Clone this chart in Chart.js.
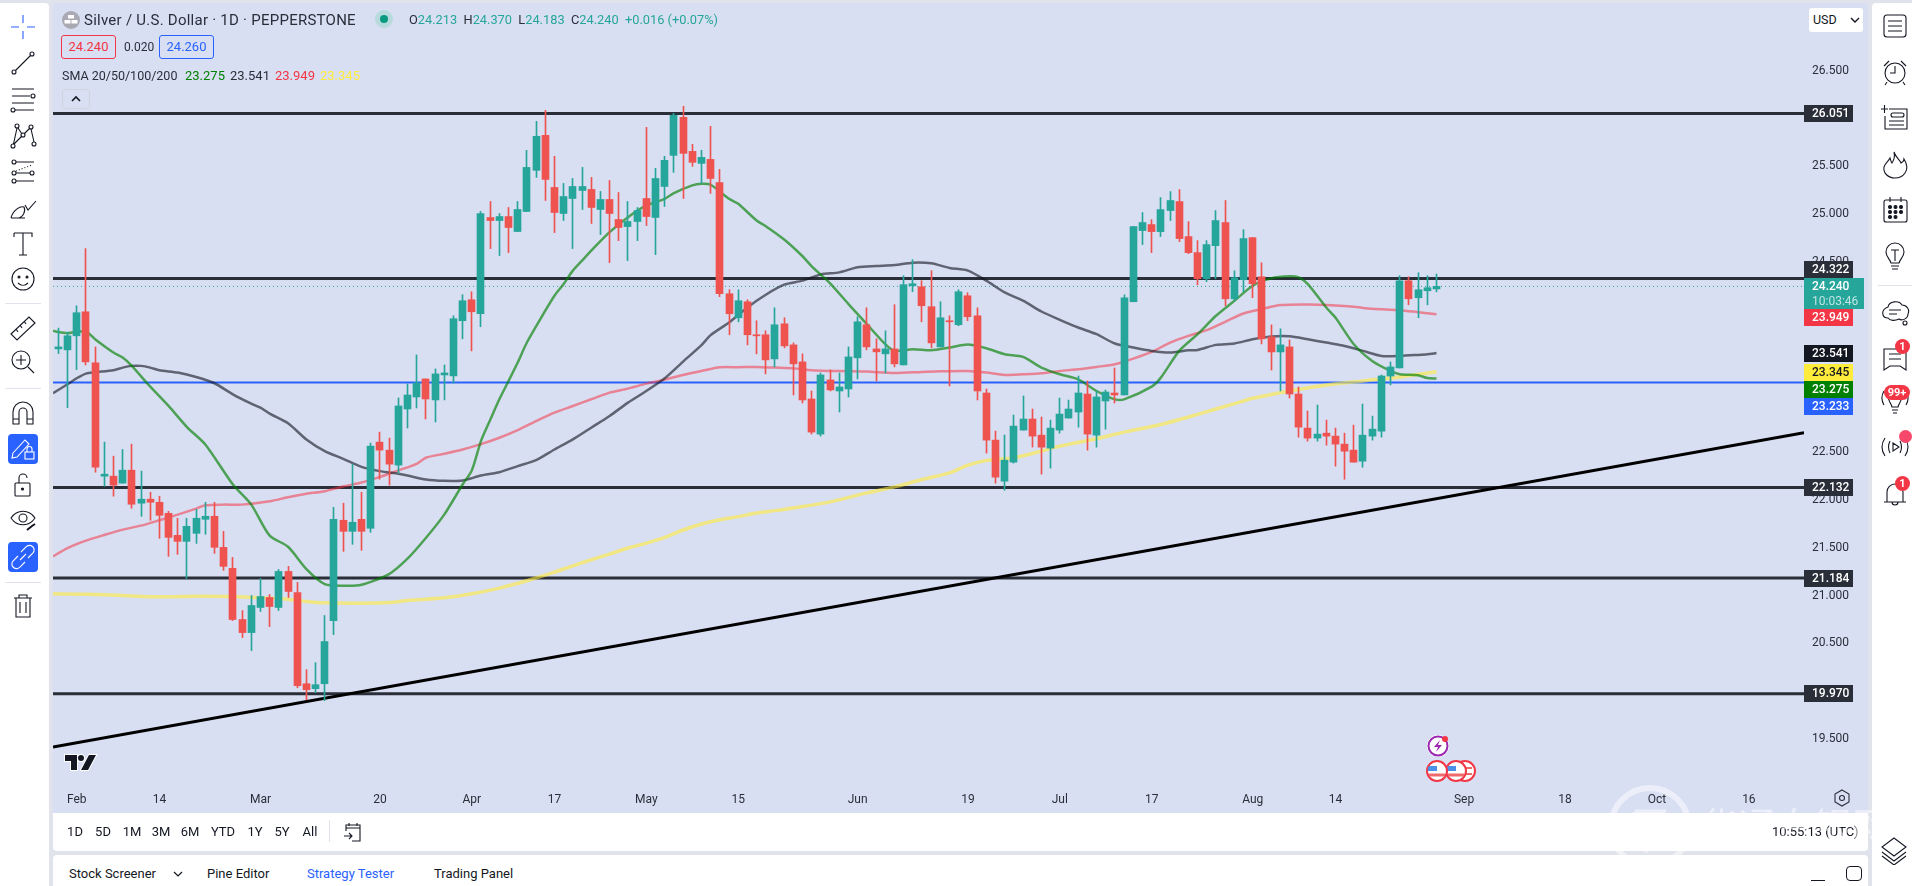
<!DOCTYPE html>
<html>
<head>
<meta charset="utf-8">
<style>
    html, body { margin: 0; padding: 0; width: 1912px; height: 886px; overflow: hidden; background: #e0e3eb; font-family: Roboto, sans-serif; color: #131722; }
    .panel { position: absolute; background: #fff; }
    .t { position: absolute; white-space: nowrap; font-size: 13px; line-height: 20px; height: 20px; }
    .c { transform: translateX(-50%); }
    .ic { position: absolute; fill: none; stroke: #131722; stroke-width: 1.1; }
    .badge { position: absolute; background: #f23645; color: #fff; border-radius: 10px; font-size: 11px; font-weight: 700; text-align: center; line-height: 15px; height: 15px; }
    .box { position: absolute; border-radius: 3px; border: 1px solid; box-sizing: border-box; background: #d9dff3; text-align: center; font-size: 13px; line-height: 21px; }
    #wm { position: absolute; left: 1700px; top: 796px; font: 400 38px "Noto Sans CJK SC"; color: rgba(255,255,255,.5); letter-spacing: 0; white-space: nowrap; }
</style>
</head>
<body>
<div class="panel" style="left:0;top:3px;width:49px;height:883px;border-top-right-radius:4px;"></div>
<div class="panel" style="left:1872px;top:3px;width:40px;height:883px;border-top-left-radius:4px;"></div>
<div class="panel" style="left:53px;top:813px;width:1815px;height:38px;border-radius:0 0 4px 4px;"></div>
<div class="panel" style="left:53px;top:855px;width:1815px;height:31px;border-radius:4px 4px 0 0;"></div>

<div style="position:absolute;left:53px;top:3px;width:1815px;height:810px;background:#d9dff3;">
    <canvas id="silver_chart" width="1815" height="810" style="display:block;"></canvas>
</div>

<!-- legend -->
<svg class="ic" style="left:61px;top:10px;stroke:none;" width="20" height="20"><circle cx="10" cy="10" r="9" fill="#a9a9b3"/><rect x="7" y="5" width="6" height="3.5" fill="#fff"/><rect x="3.5" y="10" width="6" height="3.5" fill="#fff"/><rect x="10.5" y="10" width="6" height="3.5" fill="#fff"/></svg>
<div class="t" style="left:84px;top:10px;font-size:15px;letter-spacing:.25px;color:#2a2e39;">Silver / U.S. Dollar · 1D · PEPPERSTONE</div>
<svg class="ic" style="left:374px;top:9px;stroke:none;" width="20" height="20"><circle cx="10" cy="10" r="9" fill="#b7dadd"/><circle cx="10" cy="10" r="4" fill="#089981"/></svg>
<div class="t" style="left:409px;top:10px;color:#2a2e39;font-size:12.8px;">O<span style="color:#26a69a">24.213</span>&nbsp; H<span style="color:#26a69a">24.370</span>&nbsp; L<span style="color:#26a69a">24.183</span>&nbsp; C<span style="color:#26a69a">24.240</span>&nbsp; <span style="color:#26a69a">+0.016 (+0.07%)</span></div>
<div class="box" style="left:61px;top:35px;width:55px;height:24px;border-color:#f23645;color:#f23645;">24.240</div>
<div class="t" style="left:124px;top:37px;font-size:12px;color:#2a2e39;">0.020</div>
<div class="box" style="left:159px;top:35px;width:55px;height:24px;border-color:#2962ff;color:#2962ff;">24.260</div>
<div class="t" style="left:62px;top:66px;color:#2a2e39;font-size:12.5px;">SMA 20/50/100/200</div>
<div class="t" style="left:185px;top:66px;color:#008000;">23.275</div>
<div class="t" style="left:230px;top:66px;color:#2a2e39;">23.541</div>
<div class="t" style="left:275px;top:66px;color:#f23645;">23.949</div>
<div class="t" style="left:320px;top:66px;color:#ffeb3b;">23.345</div>
<div style="position:absolute;left:62px;top:89px;width:28px;height:20px;border:1px solid #d1d4dc;border-radius:3px;box-sizing:border-box;"></div>
<svg class="ic" style="left:70px;top:94px;stroke-width:1.6;" width="12" height="10"><path d="M2 7 L6 3 L10 7"/></svg>

<!-- price axis and time axis extras -->
<div style="position:absolute;left:1809px;top:8px;width:54px;height:24px;background:#fff;border-radius:3px;"></div>
<div class="t" style="left:1813px;top:10px;font-size:12.5px;">USD</div>
<svg class="ic" style="left:1850px;top:16px;stroke-width:1.4;" width="10" height="8"><path d="M1 2 L5 6 L9 2"/></svg>
<svg class="ic" style="left:1833px;top:789px;stroke:#2a2e39;" width="18" height="18"><path d="M9 1 L16 5 V13 L9 17 L2 13 V5 Z"/><circle cx="9" cy="9" r="2.5"/></svg>

<!-- tradingview mark -->
<svg class="ic" style="left:63px;top:753px;stroke:#fff;stroke-width:2;paint-order:stroke;" width="35" height="20"><path fill="#131722" d="M2 2 H14 V17 H8 V8 H2 Z"/><circle cx="18" cy="5" r="3" fill="#131722"/><path fill="#131722" d="M26 2 H33 L25 17 H18 Z"/></svg>

<!-- chart events -->
<svg class="ic" style="left:1426px;top:734px;stroke:none;" width="24" height="24"><circle cx="12" cy="12" r="11" fill="#fff"/><circle cx="12" cy="12" r="9.5" stroke="#9c27b0" stroke-width="2" fill="#fff"/><path d="M14 6 L8 13 H12 L10 18 L16 11 H12 Z" fill="#9c27b0"/><circle cx="19" cy="5" r="3" fill="#f23645"/></svg>
<svg class="ic" style="left:1424px;top:758px;stroke:none;" width="56" height="26"><circle cx="41" cy="13" r="10" fill="#fff" stroke="#f23645" stroke-width="2"/><path d="M34 10 H48 M34 16 H48" stroke="#ef6b6b" stroke-width="2"/><circle cx="32" cy="13" r="10" fill="#fff" stroke="#f23645" stroke-width="2"/><path d="M24 17 H40" stroke="#ef6b6b" stroke-width="3"/><path d="M23.5 8 H32 V13 H22.5 Z" fill="#4c91e8"/><circle cx="13" cy="13" r="10" fill="#fff" stroke="#f23645" stroke-width="2"/><path d="M5 17 H21" stroke="#ef6b6b" stroke-width="3"/><path d="M4.5 8 H13 V13 H3.5 Z" fill="#4c91e8"/></svg>

<!-- left toolbar -->
<svg class="ic" style="left:8px;top:12px;stroke:#2962ff;" width="30" height="30"><path d="M15 3 V11 M15 19 V27 M3 15 H11 M19 15 H27"/></svg>
<svg class="ic" style="left:8px;top:48px;" width="30" height="30"><circle cx="6" cy="24" r="2"/><circle cx="24" cy="6" r="2"/><path d="M7.5 22.5 L22.5 7.5"/></svg>
<svg class="ic" style="left:8px;top:83px;" width="30" height="30"><path d="M4 6 H26 M4 13 H22 M4 20 H26 M7 27 H26"/><circle cx="25" cy="13" r="2"/><circle cx="5" cy="27" r="2"/></svg>
<svg class="ic" style="left:8px;top:120px;" width="30" height="30"><circle cx="9" cy="6" r="2"/><circle cx="23" cy="7" r="2"/><circle cx="15" cy="15" r="2"/><circle cx="5" cy="26" r="2"/><circle cx="26" cy="24" r="2"/><path d="M9 8 L5.5 24 M10 8 L14 14 M22 8 L16 14 M23 9 L26 22 M6 24 L14 16"/></svg>
<svg class="ic" style="left:8px;top:156px;" width="30" height="30"><circle cx="6" cy="6" r="2"/><circle cx="6" cy="17" r="2"/><circle cx="6" cy="25" r="2"/><circle cx="24" cy="17" r="2"/><path d="M8 6 H26 M8 17 H22 M8 25 H26"/><path d="M8 15 L24 9" stroke-dasharray="1 2"/></svg>
<svg class="ic" style="left:8px;top:192px;" width="30" height="30"><path d="M3 26 H17 M3 26 C5 18 12 14 16 15 C18 19 15 25 11 26 M17 13 L20 18 L28 9"/></svg>
<svg class="ic" style="left:8px;top:228px;" width="30" height="30"><path d="M6 5 H24 V9 M6 5 V9 M15 5 V27 M11 27 H19"/></svg>
<svg class="ic" style="left:8px;top:264px;" width="30" height="30"><circle cx="15" cy="15" r="11"/><circle cx="11" cy="13" r="1" fill="#131722"/><circle cx="19" cy="13" r="1" fill="#131722"/><path d="M10 19 C13 22 17 22 20 19"/></svg>
<div style="position:absolute;left:5px;top:303px;width:36px;height:1px;background:#e0e3eb;"></div>
<svg class="ic" style="left:8px;top:313px;" width="30" height="30"><path d="M3 21 L21 4 L27 10 L9 27 Z M8 16 L10 19 M12 12 L14 15 M16 8 L18 11"/></svg>
<svg class="ic" style="left:8px;top:347px;" width="30" height="30"><circle cx="13" cy="13" r="9"/><path d="M13 8 V18 M8 13 H18 M20 20 L26 26"/></svg>
<div style="position:absolute;left:5px;top:388px;width:36px;height:1px;background:#e0e3eb;"></div>
<svg class="ic" style="left:8px;top:398px;" width="30" height="30"><path d="M5 26 V14 A10 10 0 0 1 25 14 V26 H19 V14 A4 4 0 0 0 11 14 V26 Z M5 21 H11 M19 21 H25"/></svg>
<div style="position:absolute;left:8px;top:434px;width:30px;height:30px;background:#2962ff;border-radius:4px;"></div>
<svg class="ic" style="left:8px;top:434px;stroke:#fff;" width="30" height="30"><path d="M5 19 L17 6 L21 10 L9 23 L4 24 Z"/><rect x="17" y="18" width="9" height="7"/><path d="M19 18 V15 A2.5 2.5 0 0 1 24 15 V18"/></svg>
<svg class="ic" style="left:8px;top:470px;" width="30" height="30"><rect x="7" y="13" width="15" height="13" rx="1"/><path d="M11 13 V8 A4 4 0 0 1 19 8"/><circle cx="14.5" cy="19" r="1" fill="#131722"/></svg>
<svg class="ic" style="left:8px;top:505px;" width="30" height="30"><path d="M3 13 C9 4 21 4 27 13 C21 22 9 22 3 13 Z"/><circle cx="15" cy="13" r="4"/><path d="M19 25 L24 21 L27 19" stroke-width="2"/></svg>
<div style="position:absolute;left:8px;top:542px;width:30px;height:30px;background:#2962ff;border-radius:4px;"></div>
<svg class="ic" style="left:8px;top:542px;stroke:#fff;" width="30" height="30"><path d="M13 10 L18 5 A4 4 0 0 1 25 11 L20 16 M17 20 L12 25 A4 4 0 0 1 5 19 L10 14 M12 18 L18 12"/></svg>
<div style="position:absolute;left:5px;top:582px;width:36px;height:1px;background:#e0e3eb;"></div>
<svg class="ic" style="left:8px;top:591px;" width="30" height="30"><path d="M6 7 H24 M11 7 V4 H19 V7 M8 7 V26 H22 V7 M12 11 V22 M18 11 V22"/></svg>

<!-- right toolbar -->
<svg class="ic" style="left:1880px;top:11px;" width="30" height="30"><rect x="4" y="4" width="22" height="22" rx="3"/><path d="M8 10 H22 M8 15 H22 M8 20 H22"/></svg>
<svg class="ic" style="left:1880px;top:57px;" width="30" height="30"><circle cx="15" cy="16" r="10"/><path d="M15 9 V16 H10 M4 9 L9 4 M26 9 L21 4 M7 25 L5 28 M23 25 L25 28"/></svg>
<svg class="ic" style="left:1880px;top:103px;" width="30" height="30"><path d="M9 6 H27 V26 H5 V13 M1 6 H8 M4.5 2 V10"/><rect x="11" y="10" width="13" height="4" rx="2"/><path d="M9 18 H24 M9 22 H24"/></svg>
<svg class="ic" style="left:1880px;top:150px;" width="30" height="30"><path d="M14 2 C16 8 20 10 21 13 C23 12 24 10 24 9 C27 14 28 19 25 23 C23 26 20 28 15 28 C8 28 3 23 4 17 C5 13 8 12 10 8 C11 11 11 12 12 13 C14 10 15 6 14 2 Z"/></svg>
<svg class="ic" style="left:1880px;top:195px;" width="30" height="30"><rect x="4" y="5" width="23" height="22" rx="2"/><path d="M10 2 V7 M21 2 V7"/><g fill="#131722"><circle cx="10" cy="12" r="1.5"/><circle cx="15.5" cy="12" r="1.5"/><circle cx="21" cy="12" r="1.5"/><circle cx="10" cy="17" r="1.5"/><circle cx="15.5" cy="17" r="1.5"/><circle cx="21" cy="17" r="1.5"/><circle cx="10" cy="22" r="1.5"/><circle cx="15.5" cy="22" r="1.5"/></g></svg>
<svg class="ic" style="left:1880px;top:241px;" width="30" height="30"><path d="M11 22 C10 18 6 16 6 11 A9 9 0 0 1 24 11 C24 16 20 18 19 22 Z M11 25 H19 M12 28 H18 M11 9 H19 M15 9 V20"/></svg>
<div style="position:absolute;left:1878px;top:285px;width:34px;height:1px;background:#e0e3eb;"></div>
<svg class="ic" style="left:1880px;top:298px;" width="30" height="30"><path d="M8 9 C9 3 19 2 22 7 C27 7 30 12 28 16 C28 21 22 23 19 21 C15 23 10 23 8 20 C2 20 0 12 8 9 Z M9 12 H21 M9 16 H17"/><circle cx="25" cy="25" r="2"/></svg>
<svg class="ic" style="left:1880px;top:343px;" width="30" height="30"><path d="M4 6 H26 V27 L20 23 H10 L4 27 Z M9 11 H21 M9 16 H21"/></svg>
<div class="badge" style="left:1895px;top:339px;width:15px;">1</div>
<svg class="ic" style="left:1880px;top:385px;" width="30" height="30"><path d="M12 22 C11 18 8 16 8 11 A7 7 0 0 1 22 11 C22 16 19 18 18 22 Z M12 25 H18 M13 28 H17 M4 6 C1 11 1 15 4 20 M26 6 C29 11 29 15 26 20"/></svg>
<div class="badge" style="left:1884px;top:385px;width:26px;height:15px;">99+</div>
<svg class="ic" style="left:1880px;top:432px;" width="30" height="30"><path d="M5 6 C1 12 1 18 5 24 M10 9 C8 13 8 17 10 21 M25 6 C29 12 29 18 25 24 M20 9 C22 13 22 17 20 21 M13 11 L19 15 L13 19 Z"/></svg>
<div class="badge" style="left:1899px;top:430px;width:13px;height:13px;background:#f7476a;"></div>
<svg class="ic" style="left:1880px;top:477px;" width="30" height="30"><path d="M4 25 H26 M7 25 V15 A8 8 0 0 1 23 15 V25 M12 25 A3 3 0 0 0 18 25"/></svg>
<div class="badge" style="left:1895px;top:476px;width:15px;">1</div>
<svg class="ic" style="left:1879px;top:835px;" width="30" height="30"><path d="M15 3 L27 12 L15 21 L3 12 Z M3 17 L15 26 L27 17 M3 21 L15 30 L27 21"/></svg>

<!-- range bar -->
<div class="t c" style="left:75px;top:822px;">1D</div>
<div class="t c" style="left:103px;top:822px;">5D</div>
<div class="t c" style="left:132px;top:822px;">1M</div>
<div class="t c" style="left:161px;top:822px;">3M</div>
<div class="t c" style="left:190px;top:822px;">6M</div>
<div class="t c" style="left:223px;top:822px;">YTD</div>
<div class="t c" style="left:255px;top:822px;">1Y</div>
<div class="t c" style="left:282px;top:822px;">5Y</div>
<div class="t c" style="left:310px;top:822px;">All</div>
<div style="position:absolute;left:329px;top:820px;width:1px;height:22px;background:#e0e3eb;"></div>
<svg class="ic" style="left:343px;top:822px;" width="20" height="20"><path d="M3 9 V3 H17 V19 H9 M3 6 H17 M6 1 V4 M14 1 V4 M1 14 H9 M6 11 L9 14 L6 17"/></svg>
<div class="t" style="left:1772px;top:822px;">10:55:13 (UTC)</div>

<!-- bottom tabs -->
<div class="t" style="left:69px;top:864px;">Stock Screener</div>
<svg class="ic" style="left:173px;top:870px;stroke-width:1.2;" width="10" height="8"><path d="M1 2 L5 6 L9 2"/></svg>
<div class="t" style="left:207px;top:864px;">Pine Editor</div>
<div class="t" style="left:307px;top:864px;color:#2962ff;">Strategy Tester</div>
<div class="t" style="left:434px;top:864px;">Trading Panel</div>
<div style="position:absolute;left:1811px;top:880px;width:14px;height:1px;background:#131722;"></div>
<div style="position:absolute;left:1846px;top:866px;width:16px;height:15px;border:1px solid #131722;border-radius:4px;box-sizing:border-box;"></div>

<!-- watermark -->
<svg style="position:absolute;left:1605px;top:782px;" width="90" height="100" fill="none" stroke="rgba(255,255,255,.5)"><circle cx="45" cy="45" r="39" stroke-width="6"/><path d="M30 30 V60 M30 30 H58 L40 70" stroke-width="5"/></svg>
<div id="wm">华通白银网</div>

<script src="https://cdn.jsdelivr.net/npm/chart.js"></script>
<script>
    var opens = [
        23.585,23.575,23.722,23.974,23.438,22.251,22.251,22.178,22.314,21.968,
        22.010,21.978,21.862,21.631,21.568,21.652,21.799,21.831,21.505,21.285,
        20.749,20.612,20.875,20.980,20.875,21.253,21.032,20.076,20.024,20.076,
        20.738,21.789,21.673,21.799,21.705,22.608,22.524,22.367,22.955,23.081,
        23.270,23.050,23.312,23.302,23.880,24.100,23.953,24.962,24.930,24.972,
        24.815,25.025,25.456,25.823,25.277,25.004,25.161,25.245,25.256,25.046,
        25.151,24.941,24.867,24.920,25.161,24.962,25.287,25.613,26.012,25.655,
        25.529,25.571,25.329,24.163,23.911,24.079,23.733,23.733,23.480,23.848,
        23.627,23.449,23.060,22.692,23.260,23.144,23.165,23.491,23.838,23.585,
        23.533,23.585,23.417,24.247,24.237,24.027,23.606,23.880,23.838,24.142,
        23.932,23.123,22.629,22.199,22.398,22.734,22.850,22.681,22.545,22.734,
        22.860,22.923,23.112,22.681,23.039,23.123,23.102,24.079,24.825,24.888,
        24.814,25.035,25.129,24.762,24.594,24.320,24.667,24.909,24.110,24.310,
        24.751,24.341,23.711,23.553,23.606,23.112,22.755,22.650,22.702,22.671,
        22.587,22.524,22.408,22.671,22.723,23.301,23.385,24.299,24.121,24.194,
        24.213
    ];
    var closes = [
        23.606,23.722,23.964,23.449,22.346,22.272,22.157,22.314,21.957,22.010,
        21.978,21.841,21.610,21.568,21.726,21.810,21.831,21.505,21.306,20.749,
        20.612,20.896,20.990,20.885,21.253,21.043,20.055,20.013,20.066,20.518,
        21.799,21.673,21.768,21.673,22.566,22.524,22.377,22.987,23.102,23.228,
        23.060,23.323,23.333,23.901,24.090,23.974,25.004,24.930,24.972,24.857,
        25.046,25.487,25.813,25.361,25.014,25.182,25.287,25.287,25.067,25.151,
        25.004,24.857,24.920,25.035,24.972,25.371,25.561,26.033,25.634,25.540,
        25.592,25.371,24.163,23.953,24.090,23.733,23.722,23.470,23.838,23.617,
        23.428,23.050,22.713,23.312,23.155,23.186,23.501,23.869,23.606,23.554,
        23.585,23.428,24.258,24.268,24.037,23.648,23.911,23.869,24.184,23.922,
        23.144,22.629,22.241,22.419,22.776,22.850,22.671,22.555,22.755,22.902,
        22.955,23.123,22.692,23.081,23.133,23.102,24.121,24.867,24.909,24.814,
        25.045,25.140,24.741,24.594,24.320,24.678,24.930,24.110,24.331,24.741,
        24.268,23.690,23.553,23.627,23.112,22.765,22.650,22.692,22.671,22.587,
        22.513,22.398,22.681,22.744,23.301,23.396,24.299,24.110,24.205,24.226,
        24.240
    ];
    var highs = [
        23.803,23.761,24.037,24.636,23.606,22.608,22.461,22.531,22.587,22.304,
        22.083,22.041,21.883,21.810,21.810,21.904,21.978,21.978,21.673,21.400,
        20.843,21.001,21.180,21.011,21.274,21.306,21.138,20.224,20.297,20.791,
        21.925,21.968,22.377,22.083,22.598,22.713,22.650,23.071,23.218,23.522,
        23.270,23.375,23.417,23.932,24.153,24.184,25.025,25.130,25.004,25.067,
        25.130,25.666,25.970,26.086,25.603,25.319,25.371,25.487,25.382,25.235,
        25.350,25.224,25.130,25.067,25.907,25.477,25.603,26.054,26.128,25.729,
        25.666,25.918,25.466,24.205,24.205,24.100,23.880,23.775,24.016,23.911,
        23.648,23.533,23.144,23.333,23.365,23.333,23.606,23.922,24.016,23.691,
        23.775,24.048,24.352,24.520,24.300,24.405,24.079,23.932,24.205,24.174,
        24.016,23.165,22.724,22.682,22.892,23.092,22.955,22.871,22.839,23.070,
        23.049,23.301,23.249,23.144,23.154,23.385,24.152,24.867,25.014,24.940,
        25.171,25.234,25.255,24.919,24.720,24.720,25.035,25.140,24.404,24.835,
        24.751,24.488,23.837,23.795,23.679,23.186,22.934,22.997,22.839,22.755,
        22.702,22.786,23.007,22.881,23.312,23.448,24.352,24.341,24.383,24.352,
        24.370
    ];
    var lows = [
        23.536,22.969,23.368,23.417,22.293,22.146,22.041,22.178,21.915,21.831,
        21.789,21.600,21.411,21.432,21.180,21.547,21.642,21.442,21.264,20.738,
        20.560,20.423,20.833,20.675,20.843,20.980,20.034,19.908,19.982,19.898,
        20.591,21.463,21.537,21.474,21.663,22.220,22.157,22.283,22.756,22.966,
        22.850,22.819,23.050,23.228,23.691,23.564,23.817,24.636,24.563,24.594,
        24.815,25.025,25.382,25.140,24.804,24.930,24.636,25.046,24.899,24.783,
        24.489,24.720,24.510,24.720,24.878,24.573,25.077,25.435,25.161,25.498,
        25.319,25.214,24.132,23.733,23.869,23.627,23.533,23.323,23.396,23.596,
        23.102,23.018,22.692,22.671,23.144,22.924,23.081,23.270,23.575,23.249,
        23.333,23.396,23.417,24.184,23.869,23.596,23.606,23.197,23.827,23.880,
        23.050,22.493,22.178,22.104,22.388,22.734,22.556,22.272,22.335,22.702,
        22.860,22.765,22.524,22.555,22.744,23.018,23.102,24.079,24.678,24.594,
        24.762,24.930,24.709,24.583,24.257,24.289,24.320,24.037,24.089,24.184,
        24.121,23.637,23.364,23.144,23.070,22.660,22.618,22.618,22.576,22.356,
        22.219,22.398,22.345,22.629,22.660,23.207,23.385,24.047,23.911,24.047,
        24.183
    ];

    // moving averages at these candles
    var sma20_x = [-0.58,0,1,3,4,6,7,8,9.6,12,14,16,19,21,23,25,27,29,31,33,36,38,40,42,44,45,46,47,48,49,50,51,53,54,55,56,57,58,60,62,64,66,67,69,70,71,73,74,76,77,79,81,82,84,86,88,90,91,93,95,97,99,101,103,105,107,109,111,113,115,116,119,120,122,124,126,128,130,132,134,135,136,138,139,141,143,145,146,148,149,150];
    var sma20_y = [23.775,23.761,23.750,23.768,23.687,23.547,23.494,23.407,23.232,22.987,22.766,22.584,22.164,21.953,21.628,21.512,21.278,21.120,21.103,21.113,21.225,21.386,21.603,21.848,22.164,22.311,22.619,22.840,23.057,23.249,23.442,23.652,23.985,24.142,24.265,24.405,24.510,24.615,24.808,24.965,25.088,25.158,25.217,25.298,25.315,25.305,25.158,25.105,24.930,24.871,24.731,24.556,24.450,24.272,24.055,23.845,23.634,23.564,23.582,23.571,23.599,23.631,23.592,23.529,23.501,23.389,23.319,23.266,23.144,23.056,23.056,23.189,23.284,23.564,23.739,23.932,24.089,24.247,24.324,24.345,24.334,24.264,24.019,23.914,23.634,23.459,23.354,23.319,23.308,23.280,23.275];

    var sma50_x = [-0.58,1,2,3,4,6,7,8,9,10,11,13,15,17,19,21,22,23,25,27,29,31,33,35,37,38,40,42,44,46,48,50,52,54,56,58,60,62,64,66,68,70,71,73,75,77,79,81,83,85,87,89,91,93,95,97,99,101,103,105,107,109,111,113,115,117,119,121,123,124,126,128,130,132,134,136,138,140,142,144,146,148,149,150];
    var sma50_y = [23.120,23.214,23.277,23.326,23.340,23.361,23.389,23.407,23.407,23.389,23.361,23.337,23.291,23.225,23.109,23.011,22.969,22.906,22.805,22.636,22.514,22.433,22.349,22.304,22.276,22.258,22.216,22.202,22.206,22.258,22.293,22.356,22.419,22.531,22.636,22.759,22.882,23.022,23.144,23.277,23.452,23.624,23.729,23.862,24.020,24.153,24.258,24.300,24.366,24.387,24.440,24.454,24.464,24.489,24.482,24.433,24.405,24.300,24.177,24.090,23.977,23.890,23.809,23.739,23.641,23.599,23.564,23.546,23.571,23.574,23.627,23.641,23.686,23.715,23.718,23.686,23.651,23.616,23.564,23.511,23.511,23.522,23.529,23.541];

    var sma100_x = [-0.58,1,3,5,7,9,11,13,15,16,18,20,23,25,27,29,31,33,35,37,39,40,42,44,46,48,50,52,54,56,58,60,62,64,66,68,70,72,74,76,78,80,82,84,86,88,91,94,96,99,101,103,105,107,109,111,113,115,117,119,121,123,125,127,129,131,133,136,139,141,143,146,148,150];
    var sma100_y = [21.411,21.498,21.575,21.635,21.691,21.733,21.789,21.848,21.911,21.946,21.953,21.953,21.988,22.031,22.066,22.094,22.143,22.185,22.244,22.311,22.381,22.444,22.486,22.531,22.587,22.654,22.734,22.829,22.917,22.987,23.057,23.127,23.169,23.221,23.263,23.312,23.354,23.393,23.393,23.396,23.389,23.382,23.361,23.354,23.351,23.347,23.333,23.344,23.351,23.354,23.337,23.312,23.319,23.329,23.354,23.371,23.396,23.424,23.483,23.553,23.651,23.722,23.781,23.869,23.956,24.002,24.044,24.051,24.040,24.026,24.005,23.991,23.970,23.949];

    var sma200_x = [-0.58,3,7,11,15,19,23,25,27,29,33,36,38,42,45,48,51,54,56,58,60,62,64,66,68,70,72,74,76,78,80,84,88,91,94,97,99,101,104,107,109,113,116,120,124,128,130,134,138,142,146,150];
    var sma200_y = [21.018,21.015,21.001,20.987,20.994,20.990,20.973,20.962,20.938,20.924,20.920,20.927,20.948,20.976,21.018,21.078,21.155,21.245,21.312,21.375,21.435,21.498,21.550,21.610,21.687,21.750,21.795,21.827,21.865,21.890,21.918,21.982,22.076,22.139,22.216,22.286,22.367,22.416,22.444,22.514,22.566,22.643,22.713,22.793,22.899,23.011,23.067,23.144,23.207,23.249,23.291,23.345];

    var trend_x = [-0.58, 190.0];
    var trend_y = [19.414, 22.706];

    var level_values = [26.051, 24.322, 22.132, 21.184, 19.970];
    var blue_level = 23.233;
    var last_price = 24.240;
    var last_countdown = '10:03:46';

    var price_ticks = [19.5,20,20.5,21,21.5,22,22.5,23,23.5,24,24.5,25,25.5,26,26.5];
    var time_tick_idx = [2,11,22,35,45,54,64,74,87,99,109,119,130,139,153,164,174,184];
    var time_tick_labels = ['Feb','14','Mar','20','Apr','17','May','15','Jun','19','Jul','17','Aug','14','Sep','18','Oct','16'];

    // price axis tags
    var tag_values = [26.051, 24.322, 23.949, 23.541, 23.345, 23.275, 23.233, 22.132, 21.184, 19.970];
    var tag_fill = ['#2a2e39','#2a2e39','#f23645','#131722','#ffeb3b','#008000','#2962ff','#2a2e39','#2a2e39','#2a2e39'];
    var tag_text = ['#fff','#fff','#fff','#fff','#131722','#fff','#fff','#fff','#fff','#fff'];
    var tag_shift = [0, -9.5, 3, 0, 0.5, 11, 24, 0, 0, 0];

    var x_min = -0.58, x_max = 190.0;
    var up_color = '#26a69a', down_color = '#ef5350';

    function points(xs, ys) {
        return xs.map((x, i) => ({x: x, y: ys[i]}));
    }
    function hline(v) {
        return [{x: x_min, y: v}, {x: x_max, y: v}];
    }
    function lineSet(data, color, width, order) {
        return {type: 'line', data: data, borderColor: color, borderWidth: width, pointRadius: 0, tension: 0, order: order};
    }
    function noPadding(s) {
        s.paddingTop = 0;
        s.paddingBottom = 0;
        s.paddingLeft = 0;
        s.paddingRight = 0;
    }

    var candle_colors = opens.map((o, i) => closes[i] >= o ? up_color : down_color);

    var datasets = [
        {type: 'bar', data: opens.map((o, i) => ({x: i, y: [o, closes[i]]})), backgroundColor: candle_colors, barThickness: 7, grouped: false, order: 1},
        {type: 'bar', data: opens.map((o, i) => ({x: i, y: [lows[i], highs[i]]})), backgroundColor: candle_colors, barThickness: 1, grouped: false, order: 2},
        Object.assign(lineSet(points(sma20_x, sma20_y), 'rgba(0,128,0,.65)', 2.5, 3), {tension: 0.25}),
        Object.assign(lineSet(points(sma50_x, sma50_y), 'rgba(19,23,34,.62)', 2.5, 3), {tension: 0.25}),
        Object.assign(lineSet(points(sma100_x, sma100_y), 'rgba(242,54,69,.55)', 2.5, 3), {tension: 0.25}),
        Object.assign(lineSet(points(sma200_x, sma200_y), 'rgba(255,235,59,.6)', 3.5, 3), {tension: 0.25}),
        lineSet(points(trend_x, trend_y), '#000', 3, 4),
        lineSet(hline(blue_level), '#2962ff', 2, 4),
        Object.assign(lineSet(hline(last_price), up_color, 1, 4), {borderDash: [1, 3]})
    ];
    level_values.forEach(v => datasets.push(lineSet(hline(v), '#2a2e39', 3, 4)));

    var snapCandles = {
        id: 'snapCandles',
        afterDatasetsUpdate(chart) {
            [0, 1].forEach(d => chart.getDatasetMeta(d).data.forEach(b => { b.x = Math.floor(b.x) + 0.5; }));
        }
    };

    var priceTags = {
        id: 'priceTags',
        afterDraw(chart) {
            var ctx = chart.ctx, s = chart.scales.y, left = s.left;
            ctx.save();
            ctx.font = '500 12px Roboto';
            ctx.textBaseline = 'middle';
            tag_values.forEach((v, i) => {
                var y = s.getPixelForValue(v) + tag_shift[i];
                ctx.fillStyle = tag_fill[i];
                ctx.fillRect(left, Math.round(y - 8.5), 49, 17);
                ctx.fillStyle = tag_text[i];
                ctx.fillText(v.toFixed(3), left + 8, y + 0.5);
            });
            // last price with countdown
            var y0 = s.getPixelForValue(last_price);
            ctx.fillStyle = up_color;
            ctx.fillRect(left, Math.round(y0 - 8.5), 60, 31);
            ctx.fillStyle = '#fff';
            ctx.fillText(last_price.toFixed(3), left + 8, y0 + 0.5);
            ctx.font = '12px Roboto';
            ctx.fillStyle = 'rgba(255,255,255,.7)';
            ctx.fillText(last_countdown, left + 8, y0 + 15.5);
            ctx.restore();
        }
    };

    var silverChart = new Chart(document.getElementById('silver_chart'), {
        data: {datasets: datasets},
        plugins: [snapCandles, priceTags],
        options: {
            responsive: false,
            animation: false,
            events: [],
            layout: {padding: 0},
            plugins: {legend: {display: false}, tooltip: {enabled: false}},
            scales: {
                x: {
                    type: 'linear',
                    offset: false,
                    min: x_min,
                    max: x_max,
                    afterFit: s => { s.height = 28; noPadding(s); },
                    afterBuildTicks: s => { s.ticks = time_tick_idx.map(v => ({value: v})); },
                    grid: {display: false, drawTicks: false},
                    border: {display: false},
                    ticks: {
                        autoSkip: false,
                        maxRotation: 0,
                        padding: 8,
                        color: '#2a2e39',
                        font: {family: 'Roboto', size: 12},
                        callback: v => time_tick_labels[time_tick_idx.indexOf(v)]
                    }
                },
                y: {
                    position: 'right',
                    min: 19.0148,
                    max: 27.2098,
                    afterFit: s => { s.width = 64; noPadding(s); },
                    afterBuildTicks: s => { s.ticks = price_ticks.map(v => ({value: v})); },
                    grid: {display: false, drawTicks: false},
                    border: {display: false},
                    ticks: {
                        padding: 8,
                        color: '#2a2e39',
                        font: {family: 'Roboto', size: 12},
                        callback: v => v.toFixed(3)
                    }
                }
            }
        }
    });
</script>
</body>
</html>
